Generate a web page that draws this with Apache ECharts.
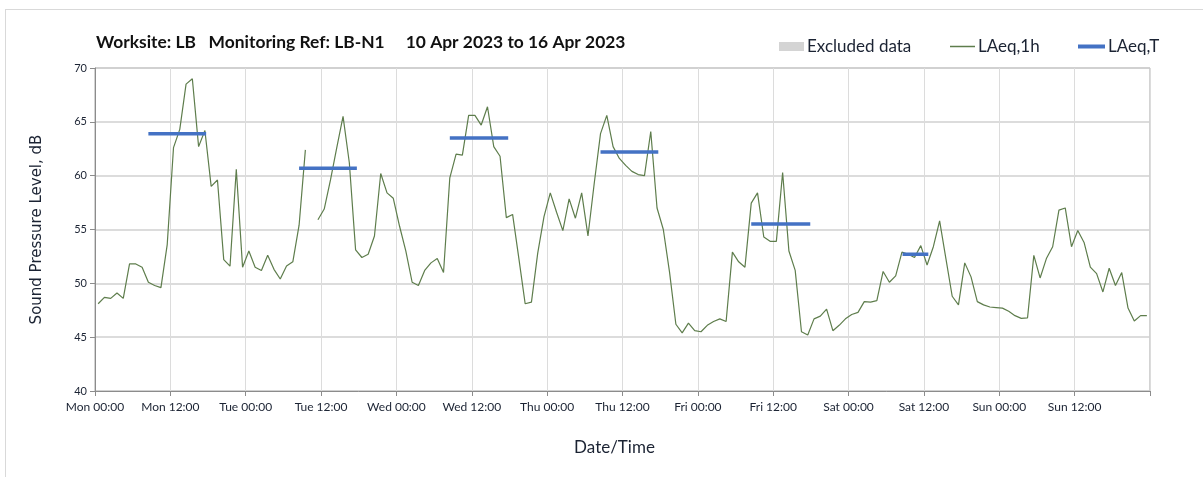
<!DOCTYPE html>
<html>
<head>
<meta charset="utf-8">
<script src="https://cdn.jsdelivr.net/npm/echarts@6/dist/echarts.min.js"></script>
<style>
  html, body { margin: 0; padding: 0; background: #fff; }
  #frame { position: absolute; left: 5px; top: 9px; width: 1300px; height: 600px; border: 1px solid #d9d9d9; }
  #chart { position: absolute; left: 0; top: 0; width: 1203px; height: 477px; }
</style>
</head>
<body>
<div id="frame"></div>
<div id="chart"></div>
<script>
// hourly LAeq,1h values, Mon 00:00 .. Sun 23:00 (plotted at mid-hour), null = no data
const laeq1h = [
  48.1, 48.7, 48.6, 49.1, 48.6, 51.8, 51.8, 51.5, 50.1, 49.8, 49.6, 53.6,
  62.6, 64.3, 68.5, 69.0, 62.7, 64.2, 59.0, 59.6, 52.2, 51.6, 60.6, 51.5,
  53.0, 51.5, 51.2, 52.6, 51.3, 50.4, 51.6, 52.0, 55.4, 62.4, null, 55.9,
  56.9, 59.6, 62.6, 65.5, 61.2, 53.1, 52.4, 52.7, 54.4, 60.2, 58.4, 57.9,
  55.3, 53.0, 50.1, 49.8, 51.2, 51.9, 52.3, 51.0, 59.8, 62.0, 61.9, 65.6,
  65.6, 64.7, 66.4, 62.7, 61.8, 56.1, 56.4, 52.3, 48.1, 48.25, 52.8, 56.2,
  58.4, 56.6, 54.9, 57.85, 56.05, 58.4, 54.4, 59.3, 63.9, 65.6, 62.7, 61.6,
  60.95, 60.4, 60.1, 60.0, 64.1, 57.0, 55.0, 51.0, 46.2, 45.4, 46.3, 45.6,
  45.5, 46.1, 46.45, 46.7, 46.45, 52.9, 52.0, 51.5, 57.45, 58.4, 54.3, 53.9,
  53.9, 60.3, 53.0, 51.2, 45.5, 45.2, 46.7, 46.95, 47.6, 45.6, 46.1, 46.7,
  47.1, 47.3, 48.3, 48.25, 48.4, 51.1, 50.1, 50.7, 52.9, 52.7, 52.4, 53.5,
  51.7, 53.4, 55.8, 52.3, 48.8, 48.0, 51.9, 50.6, 48.3, 48.0, 47.8, 47.75,
  47.7, 47.4, 47.0, 46.75, 46.8, 52.6, 50.5, 52.3, 53.4, 56.8, 57.0, 53.4,
  54.9, 53.8, 51.5, 50.9, 49.2, 51.4, 49.8, 51.0, 47.7, 46.5, 47.0, 47.0
];

// LAeq,T daytime periods (hours from Mon 00:00)
const periodStart = [8.5, 32.5, 56.5, 80.5, 104.5, 128.6];
const periodEnd   = [17.7, 41.7, 65.8, 89.7, 113.9, 132.7];
const periodLevel = [63.9, 60.7, 63.5, 62.2, 55.5, 52.7];

const dayNames = ['Mon', 'Tue', 'Wed', 'Thu', 'Fri', 'Sat', 'Sun'];
const yTicks = [40, 45, 50, 55, 60, 65, 70];

const textColor = '#1b2333';
const lineData = laeq1h.map((v, i) => [i + 0.5, v === null ? '-' : v]);
const periodData = [];
periodStart.forEach((s, i) => {
  periodData.push([s, periodLevel[i]], [periodEnd[i], periodLevel[i]], [periodEnd[i], '-']);
});

const legendText = { fontFamily: 'Lato', fontSize: 17, color: textColor, padding: [0, 0, 0, -2] };

const chart = echarts.init(document.getElementById('chart'));

chart.setOption({
  animation: false,
  title: {
    text: 'Worksite: LB   Monitoring Ref: LB-N1     10 Apr 2023 to 16 Apr 2023',
    left: 91,
    top: 29,
    textStyle: { fontFamily: 'Lato', fontWeight: 'bold', fontSize: 17.4, color: '#111' }
  },
  legend: [
    {
      data: ['Excluded data'],
      left: 774, top: 33,
      icon: 'rect', itemWidth: 25, itemHeight: 9, itemGap: 4,
      textStyle: legendText
    },
    {
      data: ['LAeq,1h'],
      left: 945, top: 33,
      icon: 'rect', itemWidth: 25, itemHeight: 1.5,
      textStyle: legendText
    },
    {
      data: ['LAeq,T'],
      left: 1073, top: 33,
      icon: 'rect', itemWidth: 27, itemHeight: 4,
      textStyle: legendText
    }
  ],
  grid: {
    left: 95, top: 68, width: 1055, height: 323,
    show: true, borderColor: '#a6a6a6', borderWidth: 1
  },
  xAxis: {
    type: 'value',
    min: 0, max: 168, interval: 12,
    name: 'Date/Time',
    nameLocation: 'middle',
    nameGap: 48,
    nameTextStyle: { fontFamily: 'Lato', fontSize: 17, color: textColor, padding: [0, 16, 0, 0] },
    axisLine: { show: true, lineStyle: { color: '#8c8c8c', width: 1 } },
    axisTick: { show: true, length: 5, lineStyle: { color: '#8c8c8c' } },
    axisLabel: {
      fontFamily: 'Lato', fontSize: 12, color: textColor, margin: 10,
      formatter: v => v >= 168 ? '' : dayNames[Math.floor(v / 24)] + (v % 24 === 0 ? ' 00:00' : ' 12:00')
    },
    splitLine: { show: true, lineStyle: { color: '#dcdcdc', width: 1 } }
  },
  yAxis: {
    type: 'value',
    min: yTicks[0], max: yTicks[yTicks.length - 1], interval: 5,
    name: 'Sound Pressure Level, dB',
    nameLocation: 'middle',
    nameGap: 50,
    nameTextStyle: { fontFamily: 'DejaVu Sans', fontSize: 15, color: textColor },
    axisLine: { show: true, lineStyle: { color: '#8c8c8c', width: 1 } },
    axisTick: { show: true, length: 5, lineStyle: { color: '#8c8c8c' } },
    axisLabel: { fontFamily: 'Lato', fontSize: 11, color: textColor, margin: 8 },
    splitLine: { show: true, lineStyle: { color: '#d0d0d0', width: 1.5 } }
  },
  series: [
    {
      name: 'Excluded data',
      type: 'line',
      data: [],
      itemStyle: { color: '#d4d4d4' }
    },
    {
      name: 'LAeq,1h',
      type: 'line',
      data: lineData,
      showSymbol: false,
      connectNulls: false,
      itemStyle: { color: '#5e7d4c' },
      lineStyle: { color: '#5e7d4c', width: 1.2 },
      z: 3
    },
    {
      name: 'LAeq,T',
      type: 'line',
      data: periodData,
      showSymbol: false,
      connectNulls: false,
      itemStyle: { color: '#4472c4' },
      lineStyle: { color: '#4472c4', width: 3.5 },
      z: 4
    }
  ]
});
</script>
</body>
</html>
